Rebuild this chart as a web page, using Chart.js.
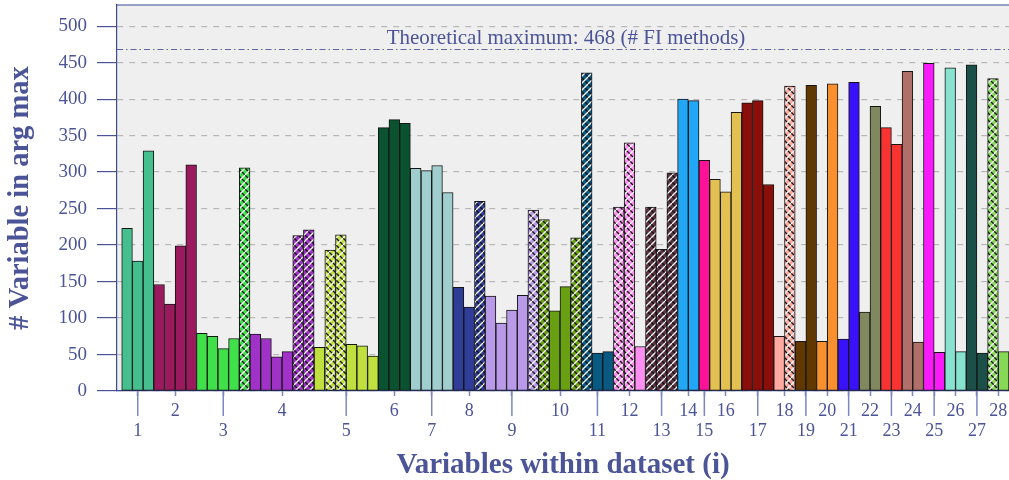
<!DOCTYPE html>
<html>
<head>
<meta charset="utf-8">
<script src="https://cdn.jsdelivr.net/npm/chart.js@4.4.1/dist/chart.umd.min.js"></script>
<style>
  html, body { margin: 0; padding: 0; background: #ffffff; overflow: hidden; }
  canvas { display: block; }
</style>
</head>
<body>
<canvas id="fiChart" width="1009" height="480"></canvas>
<script>
// groups of variables, one label per dataset
const groupLabels = ['1', '2', '3', '4', '5', '6', '7', '8', '9', '10', '11', '12', '13', '14',
    '15', '16', '17', '18', '19', '20', '21', '22', '23', '24', '25', '26', '27', '28'];
const groupSizes = [3, 4, 5, 6, 6, 3, 4, 3, 5, 4, 3, 3, 3, 2, 1, 3, 3, 2, 2, 2, 2, 2, 2, 2, 2, 2, 2, 2];
const groupColors = ['#46bf8e', '#9b1a5e', '#40e04a', '#a032c8', '#c0e040', '#0b5230', '#a0cdcd',
    '#303d98', '#b89ae8', '#68a012', '#085a82', '#ff90f2', '#5e3242', '#22a6f6', '#ff1298',
    '#e2c052', '#8a0e0a', '#ffaaa0', '#603800', '#f89030', '#3a12fa', '#808860', '#f83432',
    '#b0706a', '#f81af8', '#88e2d0', '#1a5048', '#88d858'];

// one value per variable (bar), in group order
const barValues = [
    223, 178, 329,
    146, 119, 199, 310,
    79, 75, 58, 72, 306,
    78, 72, 47, 54, 213, 221,
    60, 193, 214, 64, 62, 48,
    361, 372, 367,
    305, 302, 309, 272,
    142, 115, 260,
    130, 93, 111, 131, 248,
    235, 110, 143, 210,
    436, 52, 54,
    252, 340, 61,
    252, 194, 299,
    400, 398,
    316,
    290, 273, 382,
    395, 398, 283,
    75, 418,
    68, 419,
    68, 421,
    71, 423,
    108, 390,
    361, 338,
    438, 67,
    449, 53,
    443, 54,
    447, 52,
    428, 54
];
const hatchedBars = [
    0, 0, 0,
    0, 0, 0, 0,
    0, 0, 0, 0, 1,
    0, 0, 0, 0, 1, 1,
    0, 1, 1, 0, 0, 0,
    0, 0, 0,
    0, 0, 0, 0,
    0, 0, 1,
    0, 0, 0, 0, 1,
    1, 0, 0, 1,
    1, 0, 0,
    1, 1, 0,
    1, 1, 1,
    0, 0,
    0,
    0, 0, 0,
    0, 0, 0,
    0, 1,
    0, 0,
    0, 0,
    0, 0,
    0, 0,
    0, 0,
    0, 0,
    0, 0,
    0, 0,
    0, 0,
    1, 0
];
const yTickValues = [0, 50, 100, 150, 200, 250, 300, 350, 400, 450, 500];
const theoreticalMax = 468;
const theoreticalLabel = 'Theoretical maximum: 468 (# FI methods)';

const TEXT_BLUE = '#4a5496';
const AXIS_BLUE = '#3d4a94';
const SERIF = "'Liberation Serif', 'DejaVu Serif', serif";

function makeHatch(color) {
    const size = 7;
    const tile = document.createElement('canvas');
    tile.width = size;
    tile.height = size;
    const c = tile.getContext('2d');
    c.fillStyle = color;
    c.fillRect(0, 0, size, size);
    c.lineWidth = 1.3;
    c.strokeStyle = '#111111';
    c.beginPath();
    for (let k = -1; k <= 1; k++) {
        c.moveTo(k * size, 0);
        c.lineTo(k * size + size, size);
    }
    c.stroke();
    c.strokeStyle = '#ffffff';
    c.beginPath();
    for (let k = -1; k <= 1; k++) {
        c.moveTo(k * size, size);
        c.lineTo(k * size + size, 0);
    }
    c.stroke();
    const ctx = document.getElementById('fiChart').getContext('2d');
    return ctx.createPattern(tile, 'repeat');
}

// bar index -> group colour, and group centres for the tick labels
const barColors = [];
const groupCenters = [];
let barIndex = 0;
groupSizes.forEach((n, g) => {
    groupCenters.push(barIndex + (n - 1) / 2);
    for (let k = 0; k < n; k++) {
        barColors.push(groupColors[g]);
        barIndex++;
    }
});
const barFills = barColors.map((col, i) => (hatchedBars[i] ? makeHatch(col) : col));

function noScalePadding(scale) {
    scale.paddingTop = 0;
    scale.paddingBottom = 0;
    scale.paddingLeft = 0;
    scale.paddingRight = 0;
}

const framePlugin = {
    id: 'frame',
    beforeDraw(chart) {
        const { ctx, chartArea: a } = chart;
        ctx.save();
        ctx.fillStyle = '#efefef';
        ctx.fillRect(a.left, a.top, a.right - a.left, a.bottom - a.top);
        ctx.restore();
    },
    afterDatasetsDraw(chart) {
        const { ctx, chartArea: a } = chart;
        const y = chart.scales.y.getPixelForValue(theoreticalMax);
        ctx.save();
        ctx.strokeStyle = '#5b66a6';
        ctx.lineWidth = 1.1;
        ctx.setLineDash([6, 3, 1.5, 3]);
        ctx.beginPath();
        ctx.moveTo(a.left, y);
        ctx.lineTo(a.right, y);
        ctx.stroke();
        ctx.setLineDash([]);
        ctx.fillStyle = TEXT_BLUE;
        ctx.font = `21px ${SERIF}`;
        ctx.textAlign = 'center';
        ctx.textBaseline = 'middle';
        ctx.fillText(theoreticalLabel, (a.left + a.right) / 2 + 3, y - 11);
        ctx.restore();
    },
    afterDraw(chart) {
        const { ctx, chartArea: a } = chart;
        const xs = chart.scales.x;
        ctx.save();
        ctx.strokeStyle = AXIS_BLUE;
        ctx.lineWidth = 1.2;
        ctx.beginPath();
        ctx.moveTo(a.left, a.top);
        ctx.lineTo(a.right, a.top);
        ctx.stroke();
        // odd groups get the long tick
        ctx.strokeStyle = '#7d87bf';
        ctx.lineWidth = 1.5;
        groupCenters.forEach((c, g) => {
            if (g % 2 !== 0) return;
            const x = xs.getPixelForValue(c);
            ctx.beginPath();
            ctx.moveTo(x, a.bottom);
            ctx.lineTo(x, a.bottom + 25);
            ctx.stroke();
        });
        ctx.restore();
    }
};

const chart = new Chart(document.getElementById('fiChart'), {
    type: 'bar',
    data: {
        datasets: [{
            data: barValues.map((v, i) => ({ x: i, y: v })),
            backgroundColor: barFills,
            borderColor: '#151515',
            borderWidth: 1,
            borderSkipped: false,
            barPercentage: 1,
            categoryPercentage: 1
        }]
    },
    options: {
        responsive: false,
        animation: false,
        devicePixelRatio: 1,
        layout: { padding: { top: 5, right: 0, left: 0, bottom: 0 } },
        plugins: { legend: { display: false }, tooltip: { enabled: false } },
        scales: {
            x: {
                type: 'linear',
                min: -0.94,
                max: 82.5,
                bounds: 'data',
                offset: false,
                afterBuildTicks: (scale) => {
                    scale.ticks = groupCenters.map((v) => ({ value: v }));
                },
                afterFit: (scale) => {
                    scale.height = 89;
                    noScalePadding(scale);
                },
                grid: {
                    offset: false,
                    drawOnChartArea: false,
                    drawTicks: true,
                    tickLength: 5,
                    tickColor: '#7d87bf',
                    tickWidth: 1.5
                },
                border: { display: true, color: AXIS_BLUE, width: 1.2 },
                ticks: {
                    autoSkip: false,
                    maxRotation: 0,
                    minRotation: 0,
                    padding: 5,
                    color: TEXT_BLUE,
                    font: { family: SERIF, size: 18, lineHeight: 1.12 },
                    callback: (value, index) => (index % 2 === 0 ? ['', groupLabels[index]] : groupLabels[index])
                },
                title: {
                    display: true,
                    text: 'Variables within dataset (i)',
                    color: TEXT_BLUE,
                    padding: { top: 0, bottom: 0 },
                    font: { family: SERIF, size: 29, weight: 'bold', lineHeight: 1.0 }
                }
            },
            y: {
                min: 0,
                max: 529,
                afterBuildTicks: (scale) => {
                    scale.ticks = yTickValues.map((v) => ({ value: v }));
                },
                afterFit: (scale) => {
                    scale.width = 117;
                    noScalePadding(scale);
                },
                grid: {
                    color: '#b8b8b8',
                    lineWidth: 1.2,
                    drawTicks: true,
                    tickLength: 20,
                    tickColor: TEXT_BLUE,
                    tickWidth: 1.2,
                    tickBorderDash: []
                },
                border: { display: true, color: AXIS_BLUE, width: 1.2, dash: [6, 6] },
                ticks: {
                    padding: 10,
                    color: TEXT_BLUE,
                    font: { family: SERIF, size: 19 }
                },
                title: {
                    display: true,
                    text: '# Variable in arg max',
                    color: TEXT_BLUE,
                    padding: { top: 6, bottom: 0 },
                    font: { family: SERIF, size: 28.5, weight: 'bold', lineHeight: 1.0 }
                }
            }
        }
    },
    plugins: [framePlugin]
});
</script>
</body>
</html>
